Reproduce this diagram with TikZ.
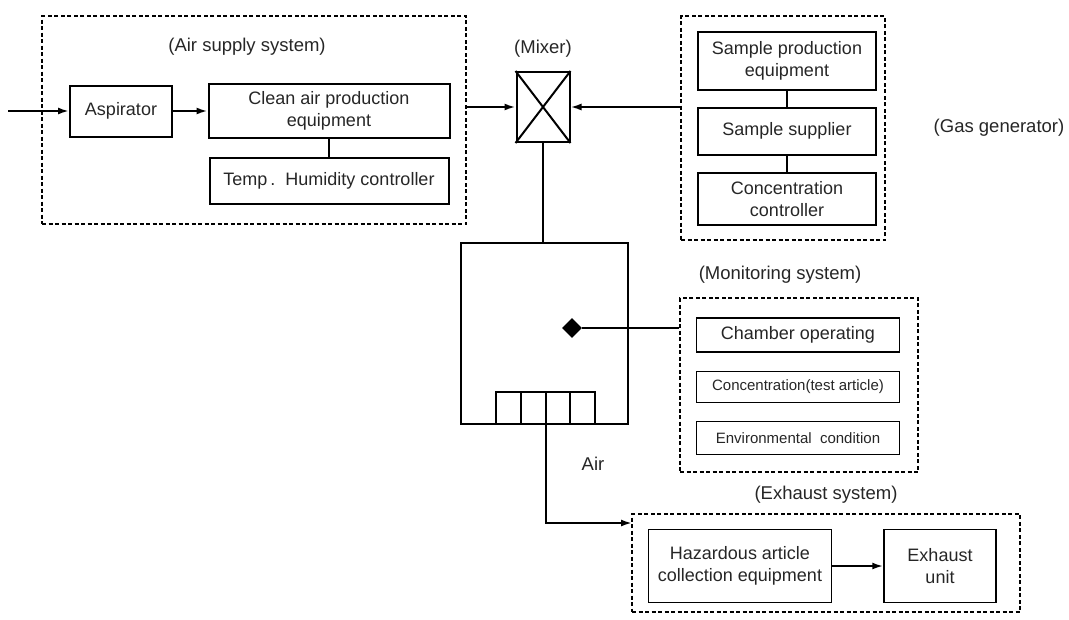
\documentclass[tikz,border=0pt]{standalone}
\usepackage{fontspec}
\setmainfont{Liberation Sans}
\usetikzlibrary{arrows.meta,shapes.geometric}

\begin{document}
\begin{tikzpicture}[x=1pt,y=-1pt,
    box/.style={draw, line width=2pt, align=center, inner sep=0pt, text=black!85,
                font=\fontsize{18}{22}\selectfont},
    sysbox/.style={draw, line width=2pt, dash pattern=on 4pt off 2.5pt, inner sep=0pt},
    title/.style={text=black!85, font=\fontsize{18.5}{22}\selectfont},
    arr/.style={-{Latex[length=11pt,width=7pt]}, line width=2pt},
    link/.style={line width=2pt}]
    \useasboundingbox (0,0) rectangle (1069,619);

    % Air supply system
    \node[sysbox, minimum width=424pt, minimum height=208pt] (airsys) at (254,120) {};
    \node[title] (airlbl) at (247,47) {(Air supply system)};
    \node[box, minimum width=102pt, minimum height=51pt] (asp) at (121,111) {Aspirator};
    \node[box, minimum width=241pt, minimum height=54pt] (clean) at (329,111) {Clean air production\\equipment};
    \node[box, minimum width=239pt, minimum height=46pt] (temp) at (329,181) {Temp\,.\ \ Humidity controller};
    \coordinate (inlet) at (8,111);
    \draw[arr] (inlet) -- (asp);
    \draw[arr] (asp) -- (clean);
    \draw[link] (clean) -- (temp);

    % Mixer
    \node[title] (mixlbl) at (543,49) {(Mixer)};
    \node[draw, line width=2pt, minimum width=53pt, minimum height=70pt] (mixer) at (543,107) {};
    \draw[link] (mixer.north west) -- (mixer.south east) (mixer.north east) -- (mixer.south west);
    \draw[arr] (airsys.east |- mixer.west) -- (mixer.west);

    % Gas generator
    \node[sysbox, minimum width=204pt, minimum height=224pt] (gasgen) at (783,128) {};
    \node[box, minimum width=178pt, minimum height=58pt] (sprod) at (787,61) {Sample production\\equipment};
    \node[box, minimum width=178pt, minimum height=47pt] (ssup) at (787,131) {Sample supplier};
    \node[box, minimum width=178pt, minimum height=52pt] (conc) at (787,199) {Concentration\\controller};
    \draw[link] (sprod) -- (ssup);
    \draw[link] (ssup) -- (conc);
    \node[title] (gaslbl) at (999,128) {(Gas generator)};
    \draw[arr] (gasgen.west |- mixer.east) -- (mixer.east);

    % Chamber
    \node[draw, line width=2pt, minimum width=167pt, minimum height=181pt] (chamber) at (544.5,333.5) {};
    \draw[link] (mixer) -- (mixer.south |- chamber.north);
    \foreach \i in {0,...,3}
        \draw[link] (496+24.75*\i,424) rectangle ++(24.75,-32);
    \coordinate (outlet) at (545.5,424);
    \node[diamond, fill=black, minimum size=20pt, inner sep=0pt] (sensor) at (572,328) {};
    \node[title] (airtxt) at (593,464) {Air};

    % Monitoring system
    \node[title] (monlbl) at (780,275) {(Monitoring system)};
    \node[sysbox, minimum width=238pt, minimum height=174pt] (monsys) at (799,385) {};
    \node[box, line width=1.5pt, minimum width=203pt, minimum height=34pt] (chop) at (798,335) {Chamber operating};
    \node[box, line width=1.5pt, minimum width=203pt, minimum height=31pt,
          font=\fontsize{15}{18}\selectfont] (conctest) at (798,387) {Concentration(test article)};
    \node[box, line width=1.5pt, minimum width=203pt, minimum height=33pt,
          font=\fontsize{15}{18}\selectfont] (envcond) at (798,438) {Environmental\ \ condition};
    \draw[link] (sensor) -- (monsys.west |- sensor);

    % Exhaust system
    \node[title] (exhlbl) at (826,495) {(Exhaust system)};
    \node[sysbox, minimum width=388pt, minimum height=98pt] (exhsys) at (826,563) {};
    \node[box, line width=1.5pt, minimum width=183pt, minimum height=73pt] (haz) at (740,566) {Hazardous article\\collection equipment};
    \node[box, line width=1.5pt, minimum width=112pt, minimum height=73pt] (exunit) at (940,566) {Exhaust\\unit};
    \draw[arr] (haz) -- (exunit);
    \coordinate (exin) at (632,523);
    \draw[arr] (outlet) |- (exin);
\end{tikzpicture}
\end{document}
